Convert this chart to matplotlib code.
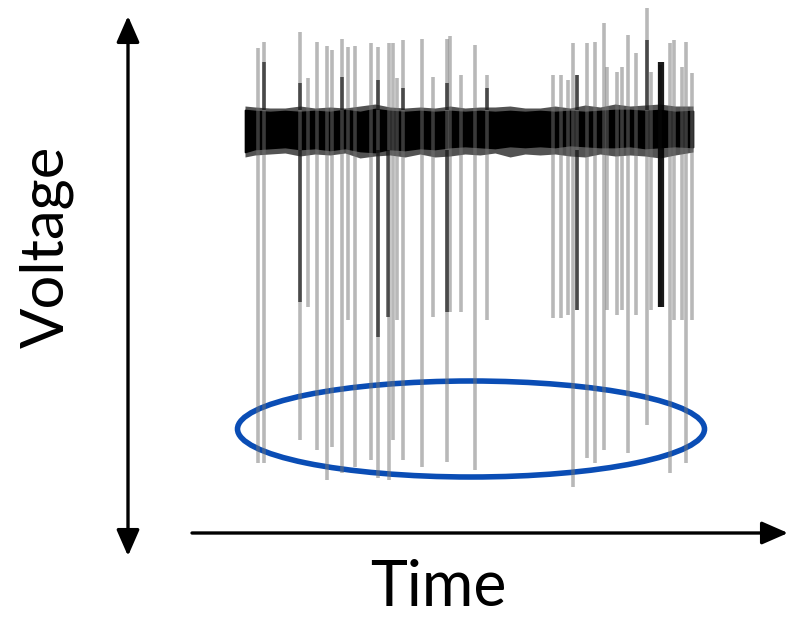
"""
Schematic: noisy extracellular voltage trace with spikes, trough region circled.
"""

import matplotlib.pyplot as plt
from matplotlib.patches import Ellipse

# ---------------- data (pixel-like units) ----------------
# spikes: time position, peak (top) and trough (bottom)
spike_time = [258, 264, 300, 308, 317, 327, 332, 342, 348, 355, 371, 378, 389, 393,
              397, 403, 422, 433, 447, 450, 461, 475, 487, 553, 561, 568, 573, 577,
              587, 595, 604, 607, 617, 622, 628, 636, 647, 651, 660, 670, 674, 682,
              686, 692]
spike_peak = [48, 42, 32, 78, 42, 46, 50, 39, 47, 46, 43, 47, 43, 43,
              78, 40, 39, 77, 39, 36, 75, 45, 75, 75, 75, 80, 43, 75,
              43, 42, 23, 67, 72, 67, 35, 53, 8, 72, 65, 43, 40, 67,
              42, 73]
spike_trough = [463, 463, 440, 307, 450, 480, 447, 473, 320, 467, 460, 478, 480, 440,
                320, 460, 467, 317, 462, 312, 312, 470, 320, 318, 318, 315, 487, 310,
                458, 463, 450, 310, 315, 310, 453, 315, 425, 310, 307, 473, 320, 320,
                463, 320]

# darker overlapping segments close to the baseline
dark_time = [264, 300, 300, 342, 378, 378, 388, 403, 447, 447, 487, 577, 577, 647]
dark_top = [62, 83, 150, 77, 80, 150, 150, 88, 83, 150, 88, 75, 150, 40]
dark_bottom = [110, 110, 302, 110, 110, 337, 317, 110, 110, 312, 110, 110, 310, 110]

# burst column on the right (very dark, wide)
burst_time = [661]
burst_top = [62]
burst_bottom = [307]

# baseline noise: core band and fuzzy fringe
band_time = [245, 255, 270, 285, 300, 315, 330, 345, 360, 375, 390, 405, 420,
             435, 450, 465, 480, 495, 510, 525, 540, 555, 570, 585, 600, 615,
             630, 645, 660, 675, 693]
band_upper = [110, 111, 112, 111, 112, 111, 112, 110, 112, 109, 111, 112, 111,
              112, 111, 112, 111, 112, 111, 112, 111, 112, 111, 112, 111, 110,
              110, 111, 110, 112, 111]
band_lower = [152, 149, 148, 147, 149, 148, 150, 148, 151, 152, 149, 150, 148,
              149, 147, 146, 147, 148, 146, 147, 146, 147, 145, 146, 147, 147,
              146, 148, 147, 146, 147]
fringe_upper = [106, 107, 108, 108, 106, 108, 107, 108, 106, 104, 107, 108, 107,
                108, 106, 108, 107, 107, 106, 108, 108, 106, 108, 105, 107, 104,
                106, 105, 104, 106, 106]
fringe_lower = [157, 155, 154, 153, 156, 154, 155, 153, 158, 156, 155, 157, 154,
                157, 156, 154, 155, 153, 157, 154, 155, 154, 156, 157, 154, 156,
                155, 156, 158, 155, 152]

# ---------------- figure ----------------
fig = plt.figure(figsize=(8.05, 6.2), dpi=100)
ax = fig.add_axes([0, 0, 1, 1])
ax.set_xlim(0, 805)
ax.set_ylim(620, 0)
ax.axis("off")

# spikes (light grey, overlapping)
ax.vlines(spike_time, spike_peak, spike_trough, colors="0.45", alpha=0.5,
          linewidth=2.6)
ax.vlines(dark_time, dark_top, dark_bottom, colors="black", alpha=0.6,
          linewidth=2.6)
ax.vlines(burst_time, burst_top, burst_bottom, colors="black", alpha=0.9,
          linewidth=4.5)

# noise band
ax.fill_between(band_time, fringe_upper, fringe_lower, color="0.1", alpha=0.75,
                linewidth=0)
ax.fill_between(band_time, band_upper, band_lower, color="black", linewidth=1.2,
                edgecolor="black")

# circled trough region
ax.add_patch(Ellipse((471, 429), 467, 96, fill=False, edgecolor="#0a4db5",
                     linewidth=4))

# axes arrows
ax.annotate("", xy=(128, 16), xytext=(128, 556),
            arrowprops=dict(arrowstyle="<|-|>,head_length=0.8,head_width=0.35",
                            color="black", lw=2.4, mutation_scale=20,
                            shrinkA=0, shrinkB=0))
ax.annotate("", xy=(788, 533), xytext=(192, 533),
            arrowprops=dict(arrowstyle="-|>,head_length=0.8,head_width=0.35",
                            color="black", lw=2.4, mutation_scale=20,
                            shrinkA=0, shrinkB=0))

# labels
ax.text(47, 247, "Voltage", rotation=90, ha="center", va="center",
        fontsize=43, family="Lato")
ax.text(438, 588, "Time", ha="center", va="center", fontsize=45, family="Lato")

plt.savefig("out.png", dpi=100)
